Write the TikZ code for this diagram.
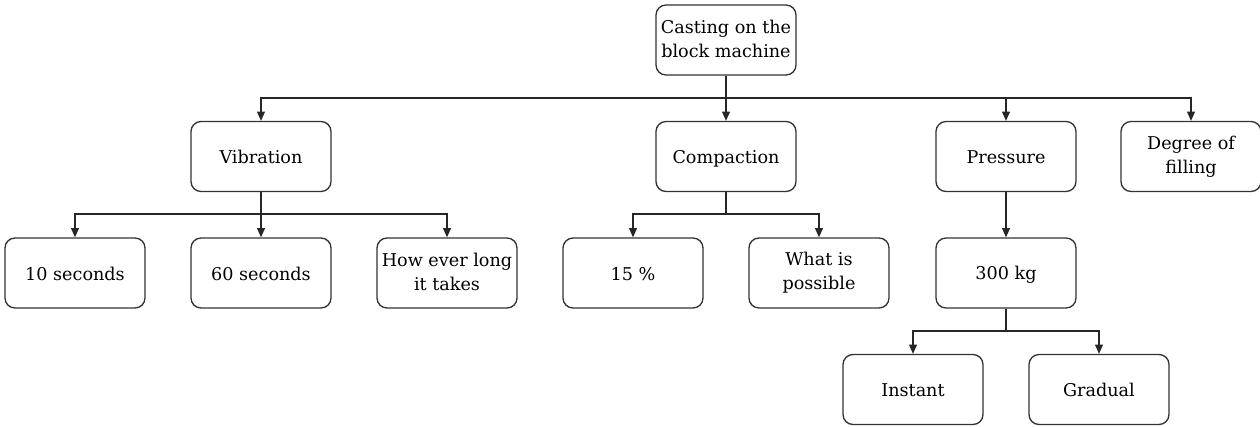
\documentclass[tikz,border=0pt]{standalone}
\usepackage{fontspec}
\setmainfont{DejaVu Serif}
\usetikzlibrary{arrows.meta}
\newcommand{\toprule}{\rule{0pt}{13pt}}
\newcommand{\botrule}{\rule[-2pt]{0pt}{2pt}}
\begin{document}
\begin{tikzpicture}[x=0.75pt,y=-0.75pt,
  box/.style={draw=black!80,line width=1pt,rounded corners=7.5pt,minimum width=105pt,minimum height=52.5pt,align=center,inner sep=2pt,font=\fontsize{13.2}{18}\selectfont,execute at begin node=\toprule,execute at end node=\botrule},
  conn/.style={draw=black!85,line width=0.9pt},
  arr/.style={conn,-{Triangle[length=7pt,width=6pt]}}]
\useasboundingbox (0,0) rectangle (1260,426);
\node[box] (root) at (726,40) {Casting on the\\block machine};
\node[box] (vib) at (261,156.5) {Vibration};
\node[box] (comp) at (726,156.5) {Compaction};
\node[box] (pres) at (1006,156.5) {Pressure};
\node[box] (deg) at (1191,156.5) {Degree of\\filling};
\node[box] (s10) at (75,273) {10 seconds};
\node[box] (s60) at (261,273) {60 seconds};
\node[box] (long) at (447,273) {How ever long\\it takes};
\node[box] (p15) at (633,273) {15 \%};
\node[box] (poss) at (819,273) {What is\\possible};
\node[box] (kg) at (1006,273) {300 kg};
\node[box] (inst) at (913,389.5) {Instant};
\node[box] (grad) at (1099,389.5) {Gradual};
\coordinate (b1) at (726,98);
\coordinate (b2) at (261,214);
\coordinate (b3) at (726,214);
\coordinate (b4) at (1006,331);
\draw[conn] (root.south) -- (b1);
\draw[arr] (b1) -| (vib.north);
\draw[arr] (b1) -- (comp.north);
\draw[arr] (b1) -| (pres.north);
\draw[arr] (b1) -| (deg.north);
\draw[conn] (vib.south) -- (b2);
\draw[arr] (b2) -| (s10.north);
\draw[arr] (b2) -- (s60.north);
\draw[arr] (b2) -| (long.north);
\draw[conn] (comp.south) -- (b3);
\draw[arr] (b3) -| (p15.north);
\draw[arr] (b3) -| (poss.north);
\draw[arr] (pres.south) -- (kg.north);
\draw[conn] (kg.south) -- (b4);
\draw[arr] (b4) -| (inst.north);
\draw[arr] (b4) -| (grad.north);
\end{tikzpicture}
\end{document}
